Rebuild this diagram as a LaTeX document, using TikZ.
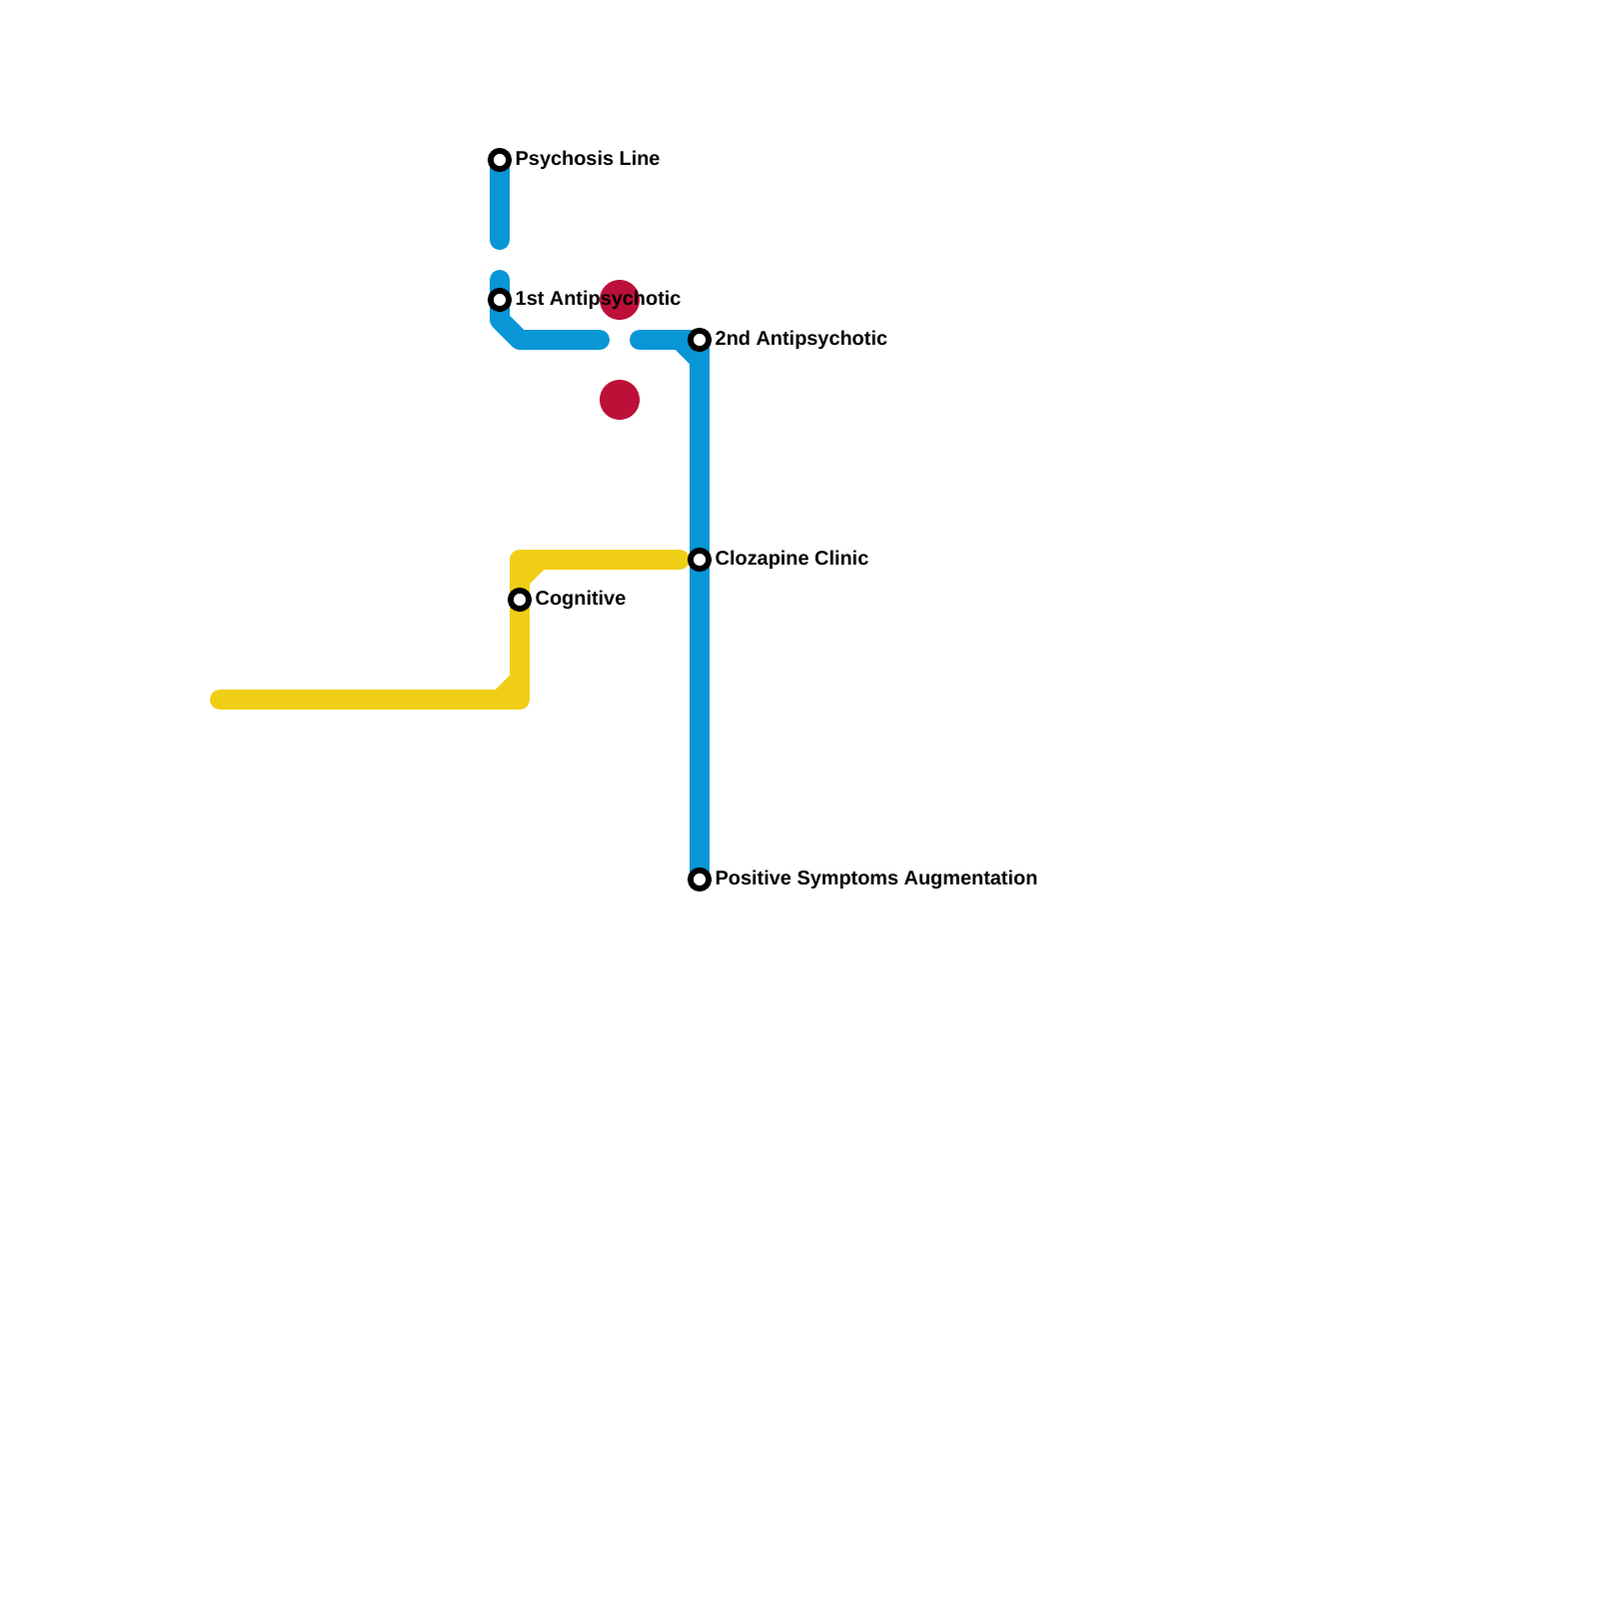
\documentclass[tikz,border=0pt]{standalone}
\usepackage{fontspec}
\setmainfont{Liberation Sans}
\usetikzlibrary{backgrounds}

\definecolor{lineblue}{HTML}{0896D7}
\definecolor{lineyellow}{HTML}{F0CE15}
\definecolor{dotred}{HTML}{BD1038}

\tikzset{
    metroline/.style={line width=5.69pt, line cap=round, line join=round},
    station/.style={circle, draw=black, fill=white, line width=1.65pt, minimum size=5.2pt, inner sep=0pt},
    stationlabel/.style={anchor=base west, inner sep=0pt, font=\fontsize{5.66pt}{6.8pt}\selectfont\bfseries},
    reddot/.style={circle, fill=dotred, minimum size=11.38pt, inner sep=0pt},
}

\begin{document}
\begin{tikzpicture}[x=0.1mm, y=-0.1mm]
    \useasboundingbox (0,0) rectangle (1600,1600);

    \node[reddot] (dottop) at (620,300) {};
    \node[reddot] (dotbottom) at (620,400) {};

    \node[station] (psychosis) at (500,160) {};
    \node[station] (first) at (500,300) {};
    \node[station] (second) at (700,340) {};
    \node[station] (clozapine) at (700,560) {};
    \node[station] (positive) at (700,880) {};
    \node[station] (cognitive) at (520,600) {};

    \node[stationlabel] (psychosislabel) at (515,165) {Psychosis Line};
    \node[stationlabel] (firstlabel) at (515,305) {1st Antipsychotic};
    \node[stationlabel] (secondlabel) at (715,345) {2nd Antipsychotic};
    \node[stationlabel] (clozapinelabel) at (715,565) {Clozapine Clinic};
    \node[stationlabel] (cognitivelabel) at (535,605) {Cognitive};
    \node[stationlabel] (positivelabel) at (715,885) {Positive Symptoms Augmentation};

    \coordinate (psychosisend) at (500,240);
    \coordinate (firststart) at (500,280);
    \coordinate (firstbend) at (500,320);
    \coordinate (firstfoot) at (520,340);
    \coordinate (firstend) at (600,340);
    \coordinate (secondstart) at (640,340);
    \coordinate (secondin) at (680,340);
    \coordinate (secondout) at (700,360);
    \coordinate (yellowstart) at (220,700);
    \coordinate (yellowlow) at (500,700);
    \coordinate (yellowcorner) at (520,700);
    \coordinate (yellowup) at (520,680);
    \coordinate (yellowtop) at (520,560);
    \coordinate (yellowdown) at (520,580);
    \coordinate (yellowright) at (540,560);
    \coordinate (yellowend) at (680,560);

    \begin{scope}[on background layer]
        \fill[white] (0,0) rectangle (1600,1600);

        \draw[metroline, lineyellow] (yellowstart) -- (yellowcorner) -- (yellowtop) -- (yellowend);
        \draw[metroline, lineyellow] (yellowlow) -- (yellowup);
        \draw[metroline, lineyellow] (yellowdown) -- (yellowright);

        \draw[metroline, lineblue] (psychosis.center) -- (psychosisend);
        \draw[metroline, lineblue] (firststart) -- (first.center) -- (firstbend) -- (firstfoot) -- (firstend);
        \draw[metroline, lineblue] (secondstart) -- (second.center) -- (clozapine.center) -- (positive.center);
        \draw[metroline, lineblue] (secondin) -- (secondout);
    \end{scope}
\end{tikzpicture}
\end{document}
